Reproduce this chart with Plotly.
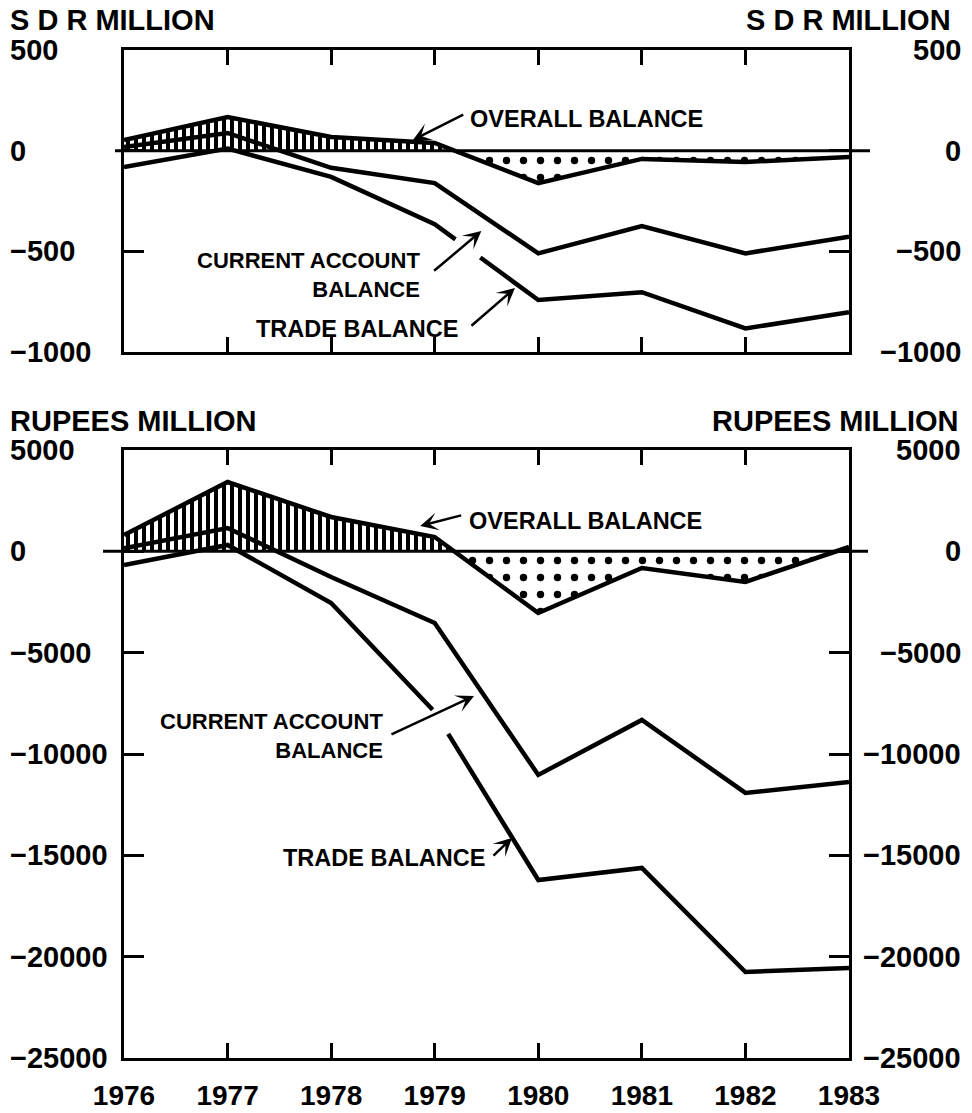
import numpy as np
import plotly.graph_objects as go

# ---------------- data ----------------
years = [1976, 1977, 1978, 1979, 1980, 1981, 1982, 1983]
year_labels = ["1976", "1977", "1978", "1979", "1980", "1981", "1982", "1983"]

# SDR million (upper panel)
sdr_overall = [53, 167, 68, 38, -161, -41, -56, -31]
sdr_current = [18, 88, -85, -161, -510, -375, -510, -428]
sdr_trade = [-81, 10, -130, -365, -742, -703, -883, -803]

# Rupees million (lower panel)
pkr_overall = [806, 3421, 1694, 707, -3042, -822, -1513, 214]
pkr_current = [150, 1151, -1266, -3536, -11033, -8320, -11922, -11380]
pkr_trade = [-674, 313, -2549, -7927, -16216, -15624, -20755, -20558]

sdr_ticks = [500, 0, -500, -1000]
sdr_tick_labels = ["500", "0", "\u2212500", "\u22121000"]
pkr_ticks = [5000, 0, -5000, -10000, -15000, -20000, -25000]
pkr_tick_labels = ["5000", "0", "\u22125000", "\u221210000", "\u221215000", "\u221220000", "\u221225000"]

# ---------------- style ----------------
W, H = 972, 1113
FONT = "Liberation Sans, Arial, sans-serif"
BLACK = "#000000"
LW = 4.5


def px_x(p):
    return p / W


def px_y(p):
    return 1 - p / H


def split_sign(x, y):
    x = np.asarray(x, float)
    y = np.asarray(y, float)
    xs, ys = [x[0]], [y[0]]
    for i in range(len(x) - 1):
        if y[i] * y[i + 1] < 0:
            t = y[i] / (y[i] - y[i + 1])
            xs.append(x[i] + t * (x[i + 1] - x[i]))
            ys.append(0.0)
        xs.append(x[i + 1])
        ys.append(y[i + 1])
    xs = np.array(xs)
    ys = np.array(ys)
    return xs, np.maximum(ys, 0), np.minimum(ys, 0)


def with_gap(x, y, g0, g1):
    x = np.asarray(x, float)
    y = np.asarray(y, float)
    l = x < g0
    r = x > g1
    xa = list(x[l]) + [g0]
    ya = list(y[l]) + [float(np.interp(g0, x, y))]
    xb = [g1] + list(x[r])
    yb = [float(np.interp(g1, x, y))] + list(y[r])
    return xa + [None] + xb, ya + [None] + yb


fig = go.Figure()


def add_panel(xref, yref, overall, current, trade, gap):
    xs, pos, neg = split_sign(years, overall)
    fig.add_trace(go.Scatter(
        x=xs, y=pos, mode="lines", line=dict(width=0, color=BLACK),
        fill="tozeroy", fillcolor="white",
        fillpattern=dict(shape="|", size=8, solidity=0.5, fgcolor=BLACK, fgopacity=1,
                         bgcolor="white"),
        xaxis=xref, yaxis=yref, hoverinfo="skip", showlegend=False))
    fig.add_trace(go.Scatter(
        x=xs, y=neg, mode="lines", line=dict(width=0, color=BLACK),
        fill="tozeroy", fillcolor="white",
        fillpattern=dict(shape=".", size=17, solidity=0.15, fgcolor=BLACK, fgopacity=1,
                         bgcolor="white"),
        xaxis=xref, yaxis=yref, hoverinfo="skip", showlegend=False))
    for ser in (overall, current):
        fig.add_trace(go.Scatter(
            x=years, y=ser, mode="lines", line=dict(width=LW, color=BLACK),
            xaxis=xref, yaxis=yref, showlegend=False))
    tx, ty = with_gap(years, trade, gap[0], gap[1])
    fig.add_trace(go.Scatter(
        x=tx, y=ty, mode="lines", line=dict(width=LW, color=BLACK),
        connectgaps=False, xaxis=xref, yaxis=yref, showlegend=False))


add_panel("x", "y", sdr_overall, sdr_current, sdr_trade, (1979.20, 1979.44))
add_panel("x2", "y2", pkr_overall, pkr_current, pkr_trade, (1978.98, 1979.13))

axis_common = dict(showline=True, linewidth=3, linecolor=BLACK, mirror="ticks",
                   ticks="inside", tickwidth=3, tickcolor=BLACK, automargin=False,
                   showgrid=False, zeroline=False)

xdom = [px_x(124), px_x(849)]
fig.update_layout(
    width=W, height=H,
    margin=dict(l=0, r=0, t=0, b=0, pad=0, autoexpand=False),
    paper_bgcolor="white", plot_bgcolor="rgba(0,0,0,0)",
    showlegend=False,
    font=dict(family=FONT, color=BLACK, size=22, weight="bold"),
    xaxis=dict(domain=xdom, range=[1976, 1983], tickvals=years, ticklen=15,
               showticklabels=False, anchor="y", **axis_common),
    yaxis=dict(domain=[px_y(352), px_y(50)], range=[-1000, 500], tickvals=sdr_ticks,
               ticklen=20, showticklabels=False, anchor="x", **axis_common),
    xaxis2=dict(domain=xdom, range=[1976, 1983], tickvals=years, ticktext=year_labels,
                ticklen=15, showticklabels=True, anchor="y2",
                tickfont=dict(family=FONT, size=28, color=BLACK, weight="bold"),
                ticklabelstandoff=10, **axis_common),
    yaxis2=dict(domain=[px_y(1058), px_y(450)], range=[-25000, 5000], tickvals=pkr_ticks,
                ticklen=20, showticklabels=False, anchor="x2", **axis_common),
)

# zero lines extending past the frame
fig.add_shape(type="line", xref="paper", yref="y", x0=px_x(115), x1=px_x(870), y0=0, y1=0,
              line=dict(color=BLACK, width=3), layer="above")
fig.add_shape(type="line", xref="paper", yref="y2", x0=px_x(103), x1=px_x(868), y0=0, y1=0,
              line=dict(color=BLACK, width=3), layer="above")

TICKFONT = dict(family=FONT, size=29, color=BLACK, weight="bold")

# y tick labels on both sides
for yref, vals, labs in (("y", sdr_ticks, sdr_tick_labels), ("y2", pkr_ticks, pkr_tick_labels)):
    for v, t in zip(vals, labs):
        fig.add_annotation(text=t, xref="paper", yref=yref, x=px_x(8), y=v,
                           xanchor="left", yanchor="middle", showarrow=False, font=TICKFONT)
        fig.add_annotation(text=t, xref="paper", yref=yref, x=px_x(963), y=v,
                           xanchor="right", yanchor="middle", showarrow=False, font=TICKFONT)

# unit titles
for txt, yc, xr in (("S D R MILLION", 20, 953), ("RUPEES MILLION", 421, 961)):
    fig.add_annotation(text=txt, xref="paper", yref="paper", x=px_x(8), y=px_y(yc),
                       xanchor="left", yanchor="middle", showarrow=False, font=TICKFONT)
    fig.add_annotation(text=txt, xref="paper", yref="paper", x=px_x(xr), y=px_y(yc),
                       xanchor="right", yanchor="middle", showarrow=False, font=TICKFONT)

LABFONT = dict(family=FONT, size=23.5, color=BLACK, weight="bold")
LABFONT2 = dict(family=FONT, size=22, color=BLACK, weight="bold")


def label(xr, yr, x, y, text, anchor, font=LABFONT):
    fig.add_annotation(text=text, xref=xr, yref=yr, x=x, y=y, xanchor=anchor,
                       yanchor="middle", align="right", showarrow=False, font=font)


def arrow(xr, yr, tail, head):
    fig.add_annotation(text="", xref=xr, yref=yr, axref=xr, ayref=yr,
                       x=head[0], y=head[1], ax=tail[0], ay=tail[1],
                       showarrow=True, arrowhead=3, arrowsize=1.2, arrowwidth=2.5,
                       arrowcolor=BLACK)


# upper panel labels
label("x", "y", 1979.32, 157, "OVERALL BALANCE", "left")
arrow("x", "y", (1979.29, 183), (1978.79, 53))
label("x", "y", 1978.877, -620, "CURRENT ACCOUNT<br>BALANCE", "right", LABFONT2)
arrow("x", "y", (1978.98, -603), (1979.45, -399))
label("x", "y", 1979.244, -886, "TRADE BALANCE", "right")
arrow("x", "y", (1979.34, -876), (1979.775, -682))

# lower panel labels
label("x2", "y2", 1979.31, 1497, "OVERALL BALANCE", "left")
arrow("x2", "y2", (1979.27, 1793), (1978.86, 1250))
label("x2", "y2", 1978.52, -9087, "CURRENT ACCOUNT<br>BALANCE", "right", LABFONT2)
arrow("x2", "y2", (1978.568, -9062), (1979.38, -7138))
label("x2", "y2", 1979.505, -15131, "TRADE BALANCE", "right")
arrow("x2", "y2", (1979.553, -15081), (1979.746, -14144))

fig.write_html("out.html", config={"displayModeBar": False})

# remove the default page margin so the figure sits at the window origin
with open("out.html", "r", encoding="utf-8") as f:
    html = f.read()
html = html.replace("<head>", "<head><style>html,body{margin:0;padding:0;overflow:hidden;}</style>", 1)
with open("out.html", "w", encoding="utf-8") as f:
    f.write(html)
